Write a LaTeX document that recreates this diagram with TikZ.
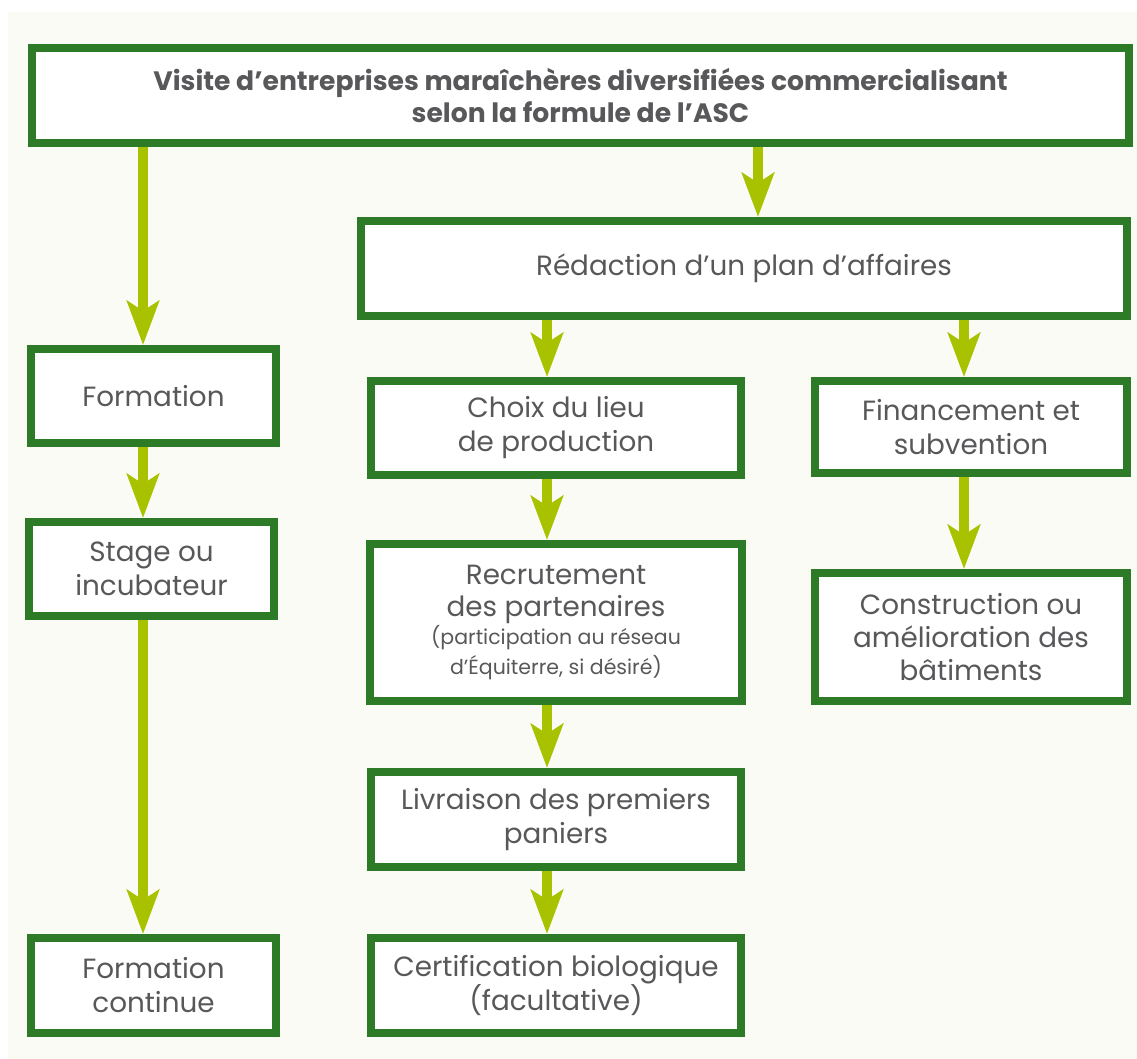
\documentclass[tikz,border=0pt]{standalone}
\usepackage{fontspec}
\setmainfont{Poppins}
\usetikzlibrary{arrows.meta,calc}
\definecolor{boxgreen}{HTML}{2E7B27}
\definecolor{arrowgreen}{HTML}{A9C200}
\definecolor{panel}{HTML}{FAFBF5}
\definecolor{txt}{HTML}{58585A}
\begin{document}
\begin{tikzpicture}[x=1pt,y=-1pt,
  box/.style={draw=boxgreen, line width=8pt, fill=white, text=txt, align=center, inner sep=0pt,
    font=\fontsize{27.8}{34}\selectfont},
  flow/.style={draw=arrowgreen, line width=10.5pt,
    -{Stealth[length=44pt,width=32pt,inset=10pt,fill=arrowgreen]}}]
\fill[white] (0,0) rectangle (1137,1059);
\useasboundingbox (0,0) rectangle (1137,1059);
\fill[panel] (8,12) rectangle (1137,1059);

\node[box, minimum width=1097pt, minimum height=95pt, font=\fontsize{26.6}{32}\selectfont\bfseries] (top) at (580.5,95.5)
  {Visite d’entreprises maraîchères diversifiées commercialisant\\selon la formule de l’ASC};
\node[box, minimum width=766pt, minimum height=95pt] (red) at (744,268.5) {Rédaction d’un plan d’affaires};
\node[box, minimum width=245pt, minimum height=94pt] (form) at (153.5,396) {Formation};
\node[box, minimum width=245pt, minimum height=94pt] (stage) at (151.5,569) {Stage ou\\incubateur};
\node[box, minimum width=245pt, minimum height=95pt] (fcont) at (153.5,985.5) {Formation\\continue};
\node[box, minimum width=370pt, minimum height=94pt] (choix) at (556,428) {Choix du lieu\\de production};
\node[box, minimum width=372pt, minimum height=157pt] (recr) at (556,622.5)
  {Recrutement\\[-2pt]des partenaires\\[-6pt]{\fontsize{20.5}{29}\selectfont (participation au réseau}\\[-4pt]{\fontsize{20.5}{29}\selectfont d’Équiterre, si désiré)}};
\node[box, minimum width=370pt, minimum height=95pt] (livr) at (556,819.5) {Livraison des premiers\\paniers};
\node[box, minimum width=370pt, minimum height=95pt] (cert) at (556,985.5) {Certification biologique\\(facultative)};
\node[box, minimum width=312pt, minimum height=92pt] (fin) at (971,427) {Financement et\\subvention};
\node[box, minimum width=312pt, minimum height=128pt, font=\fontsize{27.8}{33}\selectfont] (constr) at (971,637) {Construction ou\\amélioration des\\bâtiments};

\coordinate (colL) at (143,0);
\coordinate (colT) at (758,0);
\coordinate (colM) at (547,0);
\coordinate (colR) at (964,0);

\draw[flow] (top.south -| colL) -- (form.north -| colL);
\draw[flow] (top.south -| colT) -- (red.north -| colT);
\draw[flow] (form.south -| colL) -- (stage.north -| colL);
\draw[flow] (stage.south -| colL) -- (fcont.north -| colL);
\draw[flow] (red.south -| colM) -- (choix.north -| colM);
\draw[flow] (red.south -| colR) -- (fin.north -| colR);
\draw[flow] (choix.south -| colM) -- (recr.north -| colM);
\draw[flow] (recr.south -| colM) -- (livr.north -| colM);
\draw[flow] (livr.south -| colM) -- (cert.north -| colM);
\draw[flow] (fin.south -| colR) -- (constr.north -| colR);
\end{tikzpicture}
\end{document}
